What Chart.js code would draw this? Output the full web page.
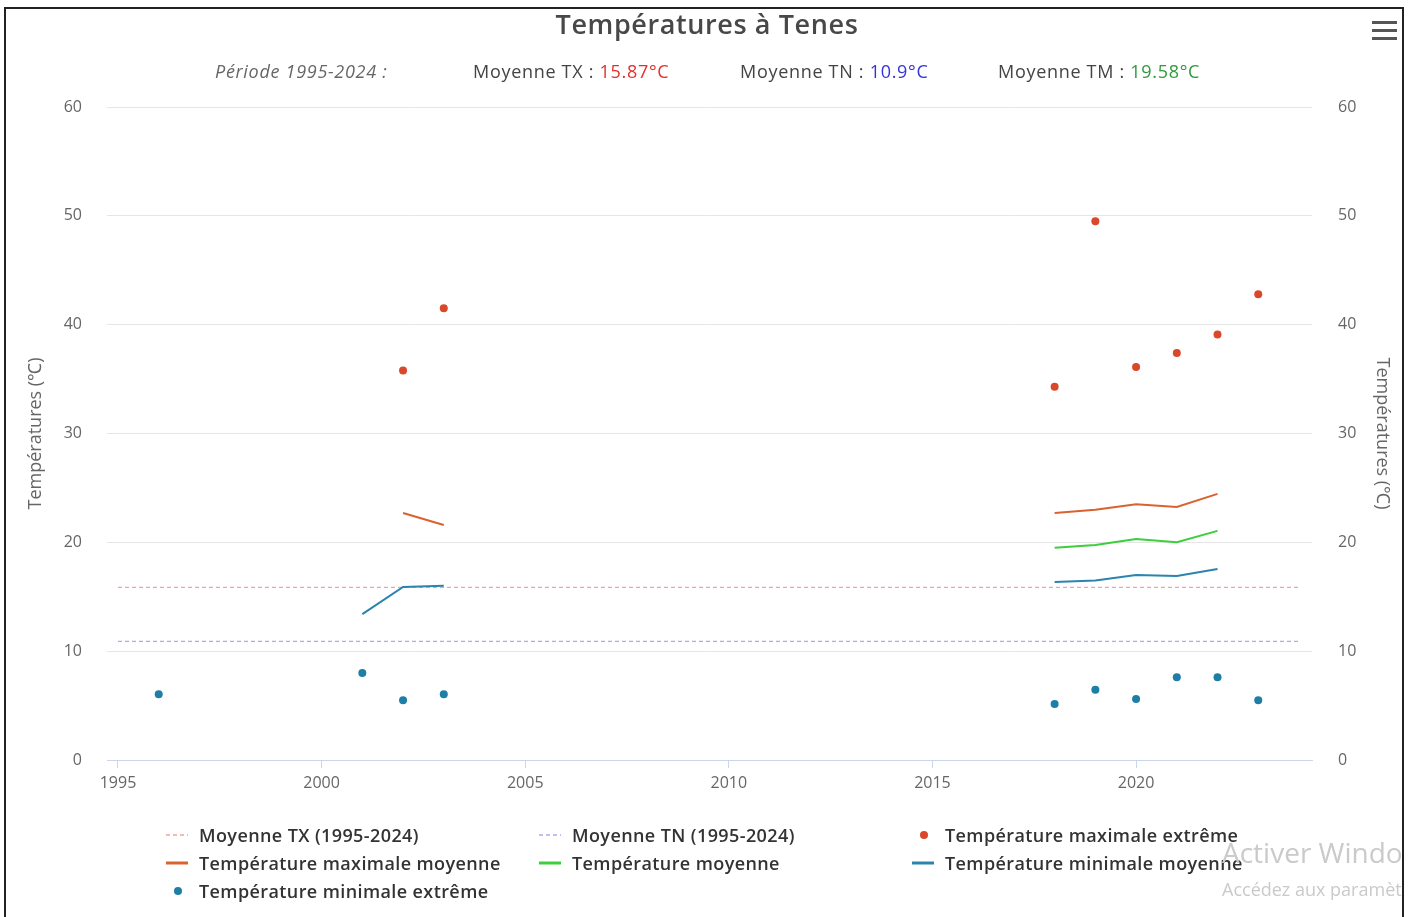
<!DOCTYPE html>
<html>
<head>
<meta charset="utf-8">
<script src="https://cdn.jsdelivr.net/npm/chart.js@4.4.1/dist/chart.umd.min.js"></script>
<style>
  html, body { margin: 0; padding: 0; background: #fff; }
  body { width: 1414px; height: 917px; position: relative; overflow: hidden; font-family: "Open Sans", sans-serif; }
  #frame { position: absolute; left: 4px; top: 7px; width: 1400px; height: 912px; border: 2px solid #222; overflow: hidden; box-sizing: border-box; }
  #chart { position: absolute; left: 0; top: 0; }
  #title { position: absolute; top: 5px; left: 0; width: 1414px; text-align: center; font-size: 27px; font-weight: 600; letter-spacing: 0.6px; color: #484848; }
  #subtitle { position: absolute; top: 59px; left: 0; width: 1414px; font-size: 18px; letter-spacing: 0.7px; color: #444; }
  #subtitle span { position: absolute; white-space: nowrap; }
  #menu { position: absolute; left: 1372px; top: 21px; width: 25px; }
  #menu div { height: 3px; background: #555; margin-bottom: 5px; }
  #legend { position: absolute; left: 163px; top: 821px; font-size: 18px; font-weight: 600; letter-spacing: 0.4px; color: #333; }
  .item { position: absolute; white-space: nowrap; height: 28px; line-height: 28px; }
  .sym { position: absolute; left: 0; top: 0; width: 26px; height: 28px; }
  .item span { position: absolute; left: 36px; top: 0; }
  #wm1 { position: absolute; left: 1216px; top: 824px; font-size: 28px; color: #cacaca; white-space: nowrap; }
  #wm2 { position: absolute; left: 1216px; top: 868px; font-size: 18px; color: #cacaca; white-space: nowrap; }
</style>
</head>
<body>
<canvas id="chart" width="1414" height="917"></canvas>
<div id="title">Températures à Tenes</div>
<div id="subtitle">
  <span style="left:215px;font-style:italic;color:#666">Période 1995-2024 :</span>
  <span style="left:473px">Moyenne TX : <b style="font-weight:normal;color:#e0302f">15.87°C</b></span>
  <span style="left:740px">Moyenne TN : <b style="font-weight:normal;color:#3434d8">10.9°C</b></span>
  <span style="left:998px">Moyenne TM : <b style="font-weight:normal;color:#2e9a3e">19.58°C</b></span>
</div>
<div id="menu"><div></div><div></div><div></div></div>
<div id="legend"></div>
<div id="frame">
  <div id="wm1">Activer Windows</div>
  <div id="wm2">Accédez aux paramètres</div>
</div>
<script>
// Data
const years = [1995, 1996, 1997, 1998, 1999, 2000, 2001, 2002, 2003, 2004, 2005, 2006, 2007, 2008, 2009,
  2010, 2011, 2012, 2013, 2014, 2015, 2016, 2017, 2018, 2019, 2020, 2021, 2022, 2023, 2024];
const xTicks = [1995, 2000, 2005, 2010, 2015, 2020];
const yTicks = [0, 10, 20, 30, 40, 50, 60];

const avgTX = 15.87;
const avgTN = 10.9;

// one value per year, null = no data
const txExtreme = [null, null, null, null, null, null, null, 35.8, 41.5, null, null, null, null, null, null,
  null, null, null, null, null, null, null, null, 34.3, 49.5, 36.1, 37.4, 39.1, 42.8, null];
const txMean = [null, null, null, null, null, null, null, 22.7, 21.6, null, null, null, null, null, null,
  null, null, null, null, null, null, null, null, 22.7, 23.0, 23.5, 23.25, 24.45, null, null];
const tmMean = [null, null, null, null, null, null, null, null, null, null, null, null, null, null, null,
  null, null, null, null, null, null, null, null, 19.5, 19.75, 20.3, 20.0, 21.05, null, null];
const tnMean = [null, null, null, null, null, null, 13.4, 15.9, 16.0, null, null, null, null, null, null,
  null, null, null, null, null, null, null, null, 16.35, 16.5, 17.0, 16.9, 17.55, null, null];
const tnExtreme = [null, 6.05, null, null, null, null, 8.0, 5.5, 6.05, null, null, null, null, null, null,
  null, null, null, null, null, null, null, null, 5.15, 6.45, 5.6, 7.6, 7.6, 5.5, null];

function toPoints(values) {
  return years.map((year, i) => ({ x: year, y: values[i] }));
}

const firstYear = years[0];
const lastYear = years[years.length - 1];

const datasets = [
  {
    label: 'Moyenne TX (1995-2024)',
    data: [{ x: firstYear, y: avgTX }, { x: lastYear, y: avgTX }],
    borderColor: '#f4a3a3', borderWidth: 1.2, borderDash: [4, 3], pointRadius: 0,
    legendType: 'dash', order: 5
  },
  {
    label: 'Moyenne TN (1995-2024)',
    data: [{ x: firstYear, y: avgTN }, { x: lastYear, y: avgTN }],
    borderColor: '#b3a6ee', borderWidth: 1.2, borderDash: [4, 3], pointRadius: 0,
    legendType: 'dash', order: 5
  },
  {
    label: 'Température maximale extrême',
    data: toPoints(txExtreme),
    showLine: false, pointRadius: 4, pointBackgroundColor: '#d9482b', pointBorderWidth: 0,
    borderColor: '#d9482b', legendType: 'dot'
  },
  {
    label: 'Température maximale moyenne',
    data: toPoints(txMean),
    borderColor: '#d9622e', borderWidth: 2, pointRadius: 0, spanGaps: false, legendType: 'line'
  },
  {
    label: 'Température moyenne',
    data: toPoints(tmMean),
    borderColor: '#3ccf3c', borderWidth: 2, pointRadius: 0, spanGaps: false, legendType: 'line'
  },
  {
    label: 'Température minimale moyenne',
    data: toPoints(tnMean),
    borderColor: '#2a84ad', borderWidth: 2, pointRadius: 0, spanGaps: false, legendType: 'line'
  },
  {
    label: 'Température minimale extrême',
    data: toPoints(tnExtreme),
    showLine: false, pointRadius: 4, pointBackgroundColor: '#1e7ea6', pointBorderWidth: 0,
    borderColor: '#1e7ea6', legendType: 'dot'
  }
];

const tickFont = { family: 'Open Sans', size: 16 };
const tickColor = '#666';
const axisTitleFont = { family: 'Open Sans', size: 18 };

const chart = new Chart(document.getElementById('chart'), {
  type: 'line',
  data: { datasets: datasets },
  options: {
    responsive: false,
    animation: false,
    layout: { padding: { top: 107, bottom: 117, left: 0, right: 0 } },
    plugins: { legend: { display: false }, tooltip: { enabled: false }, title: { display: false } },
    scales: {
      x: {
        type: 'linear',
        min: 1994.73,
        max: 2024.32,
        afterBuildTicks: (scale) => { scale.ticks = xTicks.map(v => ({ value: v })); },
        afterFit: (scale) => { scale.height = 40; },
        border: { display: true, color: '#ccd6eb', width: 1 },
        grid: { drawOnChartArea: false, drawTicks: true, tickLength: 8, color: '#ccd6eb' },
        ticks: { padding: 6, color: tickColor, font: tickFont, maxRotation: 0, callback: (v) => String(v) }
      },
      y: {
        position: 'left',
        min: 0, max: 60,
        afterBuildTicks: (scale) => { scale.ticks = yTicks.map(v => ({ value: v })); },
        afterFit: (scale) => { scale.width = 107; },
        border: { display: false },
        grid: { color: '#e6e6e6', drawTicks: false },
        ticks: { padding: 25, color: tickColor, font: tickFont },
        title: { display: true, text: 'Températures (℃)', color: '#666', font: axisTitleFont, padding: { top: 25, bottom: 0 } }
      },
      y2: {
        position: 'right',
        min: 0, max: 60,
        afterBuildTicks: (scale) => { scale.ticks = yTicks.map(v => ({ value: v })); },
        afterFit: (scale) => { scale.width = 102; },
        border: { display: false },
        grid: { drawOnChartArea: false, drawTicks: false },
        ticks: { padding: 26, color: tickColor, font: tickFont },
        title: { display: true, text: 'Températures (℃)', color: '#666', font: axisTitleFont, padding: { top: 21, bottom: 0 } }
      }
    }
  }
});

// Build the legend in three columns, like the original
const legendBox = document.getElementById('legend');
const colWidth = 373;
const rowHeight = 28;
chart.data.datasets.forEach((ds, i) => {
  const item = document.createElement('div');
  item.className = 'item';
  item.style.left = (i % 3) * colWidth + 'px';
  item.style.top = Math.floor(i / 3) * rowHeight + 'px';
  let sym = '';
  if (ds.legendType === 'dash') {
    sym = `<svg class="sym"><line x1="3" y1="14" x2="25" y2="14" stroke="${ds.borderColor}" stroke-width="1.5" stroke-dasharray="4,3"/></svg>`;
  } else if (ds.legendType === 'line') {
    sym = `<svg class="sym"><line x1="3" y1="14" x2="25" y2="14" stroke="${ds.borderColor}" stroke-width="3"/></svg>`;
  } else {
    sym = `<svg class="sym"><circle cx="15" cy="14" r="4" fill="${ds.pointBackgroundColor}"/></svg>`;
  }
  item.innerHTML = sym + `<span>${ds.label}</span>`;
  legendBox.appendChild(item);
});
</script>
</body>
</html>
